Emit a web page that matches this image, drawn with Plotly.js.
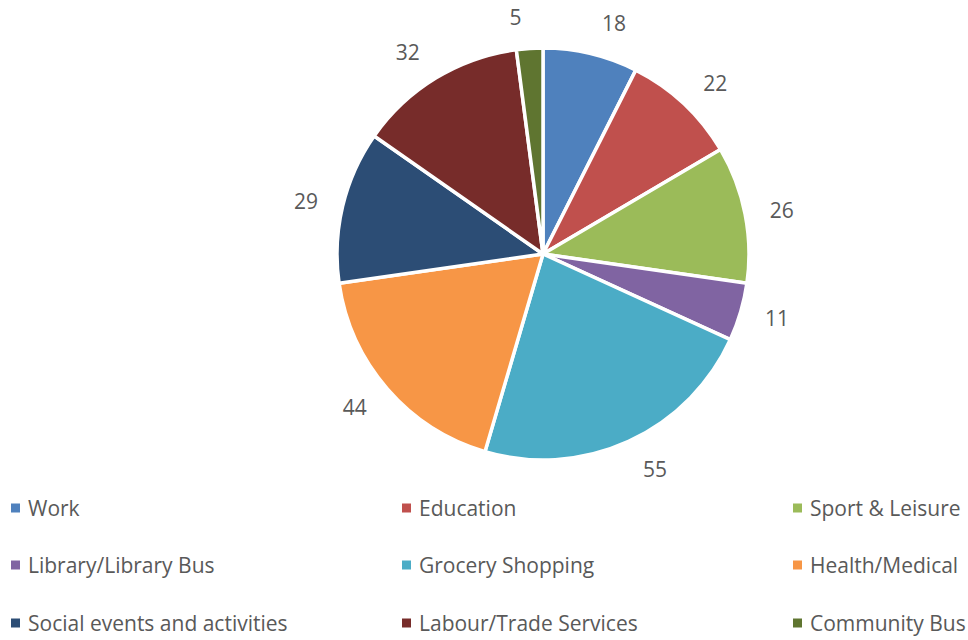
<!DOCTYPE html>
<html>
<head>
<meta charset="utf-8">
<script src="https://cdn.plot.ly/plotly-3.0.1.min.js"></script>
<style>html,body{margin:0;padding:0;background:#fff;}#chart{width:968px;height:640px;}</style>
</head>
<body>
<div id="chart"></div>
<script>
var categories = ["Work", "Education", "Sport & Leisure", "Library/Library Bus", "Grocery Shopping", "Health/Medical", "Social events and activities", "Labour/Trade Services", "Community Bus"];
var values = [18, 22, 26, 11, 55, 44, 29, 32, 5];
var colors = ["#4F81BD", "#C0504D", "#9BBB59", "#8064A2", "#4BACC6", "#F79646", "#2C4D75", "#772C2A", "#5F7530"];

var W = 968, H = 640;
var cx = 543, cy = 254, R = 206, RL = 224;
var fontFam = "'Open Sans', 'Noto Sans', sans-serif";
var textColor = "#595959";

function dom(r) {
  return {
    x: [(cx - r) / W, (cx + r) / W],
    y: [1 - (cy + r) / H, 1 - (cy - r) / H]
  };
}

var pie = {
  type: "pie",
  labels: categories,
  values: values,
  sort: false,
  direction: "clockwise",
  rotation: 0,
  marker: {colors: colors, line: {color: "#ffffff", width: 3.5}},
  textinfo: "none",
  hoverinfo: "label+value",
  showlegend: false,
  domain: dom(R)
};

var labelPie = {
  type: "pie",
  labels: categories,
  values: values,
  sort: false,
  direction: "clockwise",
  rotation: 0,
  marker: {colors: categories.map(function(){return "rgba(0,0,0,0)";}), line: {width: 0}},
  textinfo: "value",
  textposition: "outside",
  outsidetextfont: {family: fontFam, size: 21, color: textColor},
  hoverinfo: "skip",
  showlegend: false,
  domain: dom(RL)
};

// legend built from the category/colour arrays
var colX = [11, 402, 793];
var rowY = [508, 565, 623];
var shapes = [], annotations = [];
categories.forEach(function(c, i) {
  var col = i % 3, row = Math.floor(i / 3);
  var x0 = colX[col], yc = rowY[row];
  shapes.push({
    type: "rect", xref: "paper", yref: "paper",
    x0: x0 / W, x1: (x0 + 9) / W,
    y0: 1 - (yc + 4.5) / H, y1: 1 - (yc - 4.5) / H,
    fillcolor: colors[i], line: {width: 0}
  });
  annotations.push({
    xref: "paper", yref: "paper",
    x: (x0 + 15) / W, y: 1 - yc / H,
    xanchor: "left", yanchor: "middle",
    text: c, showarrow: false,
    font: {family: fontFam, size: 21, color: textColor}
  });
});

var layout = {
  width: W, height: H,
  margin: {l: 0, r: 0, t: 0, b: 0},
  paper_bgcolor: "#ffffff",
  showlegend: false,
  shapes: shapes,
  annotations: annotations,
  font: {family: fontFam, color: textColor}
};

Plotly.newPlot("chart", [pie, labelPie], layout, {displayModeBar: false, staticPlot: true});
</script>
</body>
</html>
